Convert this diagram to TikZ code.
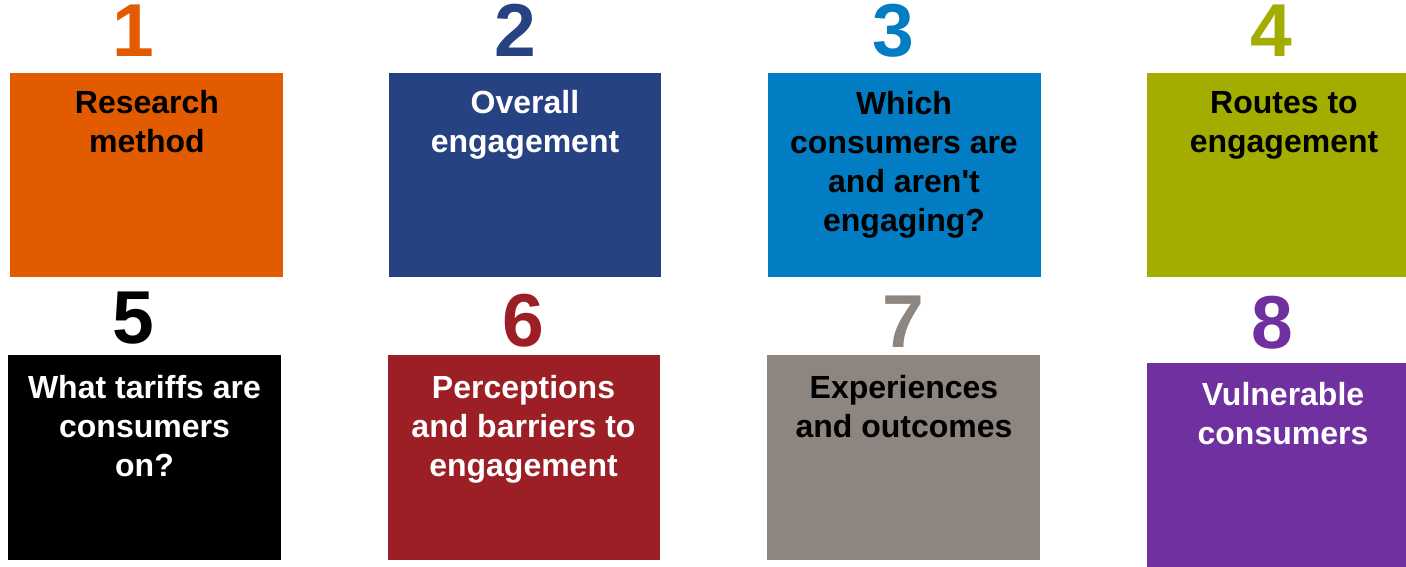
\documentclass[tikz,border=0pt]{standalone}
\usepackage{fontspec}
\setmainfont{Liberation Sans}
\definecolor{cOrange}{HTML}{E35B00}
\definecolor{cNavy}{HTML}{264283}
\definecolor{cBlue}{HTML}{027DC3}
\definecolor{cOlive}{HTML}{A3AD00}
\definecolor{cRed}{HTML}{9B1F24}
\definecolor{cGrey}{HTML}{8C8580}
\definecolor{cPurple}{HTML}{7030A0}
\begin{document}
\begin{tikzpicture}[x=1pt,y=-1pt,
  tile/.style={draw=none,inner sep=0,outer sep=0,anchor=north west},
  num/.style={anchor=base,inner sep=0,font=\fontsize{75}{80}\selectfont\bfseries},
  lbl/.style={anchor=base,inner sep=0,align=center,font=\fontsize{32}{39}\selectfont\bfseries}]
\useasboundingbox (0,0) rectangle (1406,567);
% top row of tiles
\node[tile,fill=cOrange,minimum width=273pt,minimum height=204pt] (box1) at (10,73) {};
\node[tile,fill=cNavy,minimum width=272pt,minimum height=204pt] (box2) at (389,73) {};
\node[tile,fill=cBlue,minimum width=273pt,minimum height=204pt] (box3) at (768,73) {};
\node[tile,fill=cOlive,minimum width=259pt,minimum height=204pt] (box4) at (1147,73) {};
% bottom row of tiles
\node[tile,fill=black,minimum width=273pt,minimum height=205pt] (box5) at (8,355) {};
\node[tile,fill=cRed,minimum width=272pt,minimum height=205pt] (box6) at (388,355) {};
\node[tile,fill=cGrey,minimum width=273pt,minimum height=205pt] (box7) at (767,355) {};
\node[tile,fill=cPurple,minimum width=259pt,minimum height=204pt] (box8) at (1147,363) {};
% section numbers
\node[num,text=cOrange] (n1) at (133,57) {1};
\node[num,text=cNavy] (n2) at (515,57) {2};
\node[num,text=cBlue] (n3) at (893,57) {3};
\node[num,text=cOlive] (n4) at (1271,57) {4};
\node[num,text=black] (n5) at (133,343) {5};
\node[num,text=cRed] (n6) at (523,346) {6};
\node[num,text=cGrey] (n7) at (903,347) {7};
\node[num,text=cPurple] (n8) at (1272,348) {8};
% section titles (anchored on the baseline of their last line)
\node[lbl,text=black] (t1) at (147,152.5) {Research\\method};
\node[lbl,text=white] (t2) at (525,152.5) {Overall\\engagement};
\node[lbl,text=black] (t3) at (904,231) {Which\\consumers are\\and aren\textquotesingle t\\engaging?};
\node[lbl,text=black] (t4) at (1284,152.5) {Routes to\\engagement};
\node[lbl,text=white] (t5) at (144.5,476) {What tariffs are\\consumers\\on?};
\node[lbl,text=white] (t6) at (523.5,476) {Perceptions\\and barriers to\\engagement};
\node[lbl,text=black] (t7) at (904,437) {Experiences\\and outcomes};
\node[lbl,text=white] (t8) at (1283,444) {Vulnerable\\consumers};
\end{tikzpicture}
\end{document}
